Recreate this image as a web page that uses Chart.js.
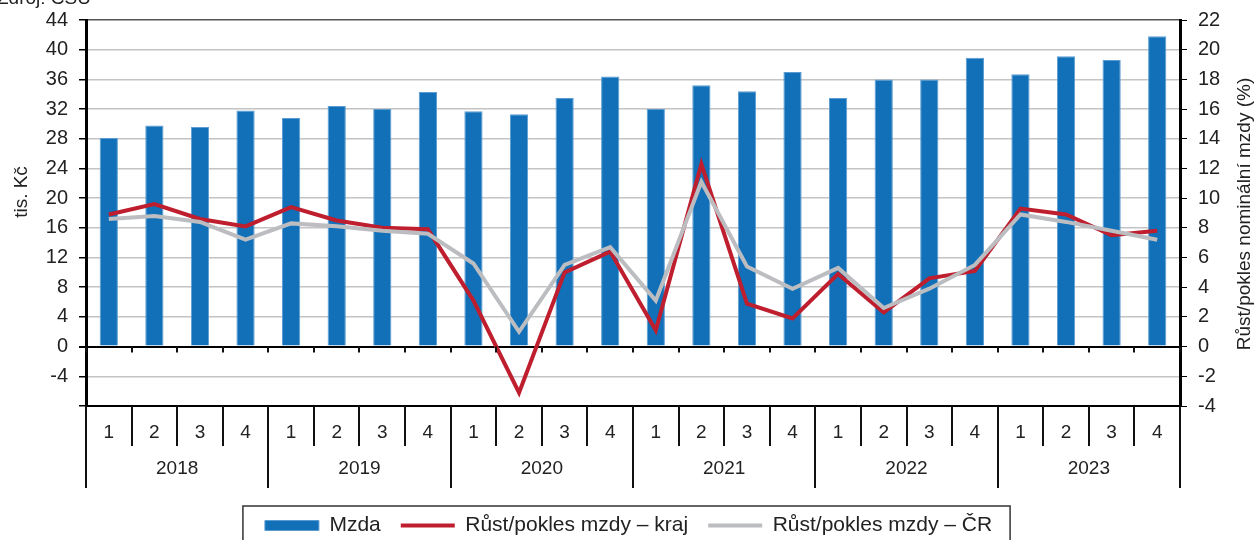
<!DOCTYPE html>
<html>
<head>
<meta charset="utf-8">
<script src="https://cdn.jsdelivr.net/npm/chart.js@4.4.1/dist/chart.umd.min.js"></script>
<style>
  html, body { margin: 0; padding: 0; background: #fff; overflow: hidden; }
  #wrap { position: relative; width: 1257px; height: 540px; }
  #src { position: absolute; left: -3px; top: -13px; font: 19px "Liberation Sans", Arial, sans-serif; color: #222; }
</style>
</head>
<body>
<div id="wrap">
  <canvas id="mzdyChart" width="1257" height="540"></canvas>
  <div id="src">Zdroj: ČSÚ</div>
</div>
<script>
const years = ["2018", "2019", "2020", "2021", "2022", "2023"];
const quarters = ["1", "2", "3", "4"];

// prumerna mzda v tis. Kc
const mzda = [28.1, 29.8, 29.6, 31.8, 30.8, 32.4, 32.0, 34.3, 31.7, 31.3, 33.5, 36.4,
              32.0, 35.2, 34.4, 37.0, 33.5, 36.0, 36.0, 38.9, 36.7, 39.1, 38.6, 41.8];
// mezirocni rust v %
const rustKraj = [8.9, 9.6, 8.6, 8.1, 9.4, 8.5, 8.0, 7.9, 3.1, -3.1, 5.0, 6.4,
                  1.1, 12.3, 2.9, 1.9, 4.9, 2.3, 4.6, 5.1, 9.3, 8.9, 7.5, 7.8];
const rustCR = [8.6, 8.8, 8.4, 7.2, 8.3, 8.1, 7.8, 7.6, 5.6, 1.0, 5.5, 6.7,
                3.1, 11.1, 5.4, 3.9, 5.3, 2.6, 3.9, 5.5, 8.9, 8.4, 7.8, 7.2];

const leftTitle = "tis. Kč";
const rightTitle = "Růst/pokles nominální mzdy (%)";

const labels = years.flatMap(y => quarters.map(q => y + "/" + q));

const FONT = '"Liberation Sans", Arial, sans-serif';
const TEXT = "#222";

// dvouradkove popisky osy x + delici cary
const categoryAxis = {
  id: "categoryAxis",
  afterDraw(chart) {
    const { ctx, chartArea: a, scales } = chart;
    const x = scales.x, y = scales.y;
    const n = labels.length;
    const w = x.getPixelForValue(1) - x.getPixelForValue(0);
    const y0 = y.getPixelForValue(0);
    ctx.save();
    ctx.strokeStyle = "#111";
    ctx.lineWidth = 2;
    ctx.beginPath();
    for (let i = 0; i <= n; i++) {
      const bx = Math.round(x.getPixelForValue(i) - w / 2);
      ctx.moveTo(bx, y0);
      ctx.lineTo(bx, y0 + 6);
      ctx.moveTo(bx, a.bottom);
      ctx.lineTo(bx, a.bottom + (i % 4 === 0 ? 82 : 40));
    }
    ctx.stroke();

    ctx.fillStyle = TEXT;
    ctx.font = "19px " + FONT;
    ctx.textAlign = "center";
    ctx.textBaseline = "middle";
    labels.forEach((l, i) => {
      ctx.fillText(quarters[i % 4], x.getPixelForValue(i), a.bottom + 27);
    });
    years.forEach((yr, j) => {
      const cx = (x.getPixelForValue(j * 4) + x.getPixelForValue(j * 4 + 3)) / 2;
      ctx.fillText(yr, cx, a.bottom + 63);
    });

    // nazvy os, oba ctene zdola nahoru
    ctx.font = "19px " + FONT;
    ctx.save();
    ctx.translate(22, 192);
    ctx.rotate(-Math.PI / 2);
    ctx.fillText(leftTitle, 0, 0);
    ctx.restore();
    ctx.save();
    ctx.translate(1245, 214);
    ctx.rotate(-Math.PI / 2);
    ctx.fillText(rightTitle, 0, 0);
    ctx.restore();
    ctx.restore();
  }
};

// ramecek kolem legendy
const legendBox = {
  id: "legendBox",
  afterDraw(chart) {
    const lg = chart.legend;
    if (!lg || !lg.legendHitBoxes.length) return;
    const boxes = lg.legendHitBoxes;
    const minX = Math.min(...boxes.map(b => b.left));
    const maxX = Math.max(...boxes.map(b => b.left + b.width));
    const top = Math.min(...boxes.map(b => b.top));
    const ctx = chart.ctx;
    ctx.save();
    ctx.strokeStyle = "#333";
    ctx.lineWidth = 1.5;
    ctx.strokeRect(minX - 22, top - 9, maxX - minX + 40, 60);
    ctx.restore();
  }
};

const gridColor = (c) => c.tick.value === 0 ? "#000" : (c.tick.value === 44 ? "#555" : "#c4c4c4");

// pevna sirka osy, bez presahu popisku nahoru/dolu
const fixAxis = (width) => (s) => {
  s.width = width;
  s.paddingTop = 0;
  s.paddingBottom = 0;
};

new Chart(document.getElementById("mzdyChart"), {
  type: "bar",
  data: {
    labels: labels,
    datasets: [
      {
        type: "bar",
        label: "Mzda",
        data: mzda,
        yAxisID: "y",
        backgroundColor: "#1170b8",
        borderColor: "#5b9dd3",
        borderWidth: 1,
        barPercentage: 0.4,
        categoryPercentage: 1,
        pointStyle: "rect",
        order: 2
      },
      {
        type: "line",
        label: "Růst/pokles mzdy – kraj",
        data: rustKraj,
        yAxisID: "y2",
        borderColor: "#be1e2d",
        backgroundColor: "#be1e2d",
        borderWidth: 4,
        pointRadius: 0,
        tension: 0,
        pointStyle: "line",
        order: 1
      },
      {
        type: "line",
        label: "Růst/pokles mzdy – ČR",
        data: rustCR,
        yAxisID: "y2",
        borderColor: "#bcbdc1",
        backgroundColor: "#bcbdc1",
        borderWidth: 4,
        pointRadius: 0,
        tension: 0,
        pointStyle: "line",
        order: 0
      }
    ]
  },
  options: {
    responsive: false,
    animation: false,
    layout: { padding: { top: 20, left: 0, right: 0, bottom: -6 } },
    plugins: {
      tooltip: { enabled: false },
      legend: {
        position: "bottom",
        labels: {
          usePointStyle: true,
          pointStyleWidth: 54,
          boxHeight: 10,
          padding: 20,
          color: TEXT,
          font: { family: FONT, size: 21 },
          sort: (a, b) => a.datasetIndex - b.datasetIndex
        }
      }
    },
    scales: {
      x: {
        grid: { display: false },
        ticks: { display: false },
        border: { display: true, color: "#000", width: 2 },
        afterFit: (s) => { s.height = 89; }
      },
      y: {
        position: "left",
        min: -8,
        max: 44,
        ticks: {
          stepSize: 4,
          color: TEXT,
          padding: 11,
          font: { family: FONT, size: 20 },
          callback: (v) => v === -8 ? "" : v
        },
        grid: {
          color: gridColor,
          lineWidth: (c) => c.tick.value === 0 ? 2 : 1.5,
          tickColor: "#000",
          tickLength: 7
        },
        border: { color: "#000", width: 3 },
        afterFit: fixAxis(86)
      },
      y2: {
        position: "right",
        min: -4,
        max: 22,
        ticks: {
          stepSize: 2,
          color: TEXT,
          padding: 11,
          font: { family: FONT, size: 20 }
        },
        grid: { drawOnChartArea: false, tickColor: "#000", tickLength: 7 },
        border: { color: "#000", width: 3 },
        afterFit: fixAxis(77)
      }
    }
  },
  plugins: [categoryAxis, legendBox]
});
</script>
</body>
</html>
